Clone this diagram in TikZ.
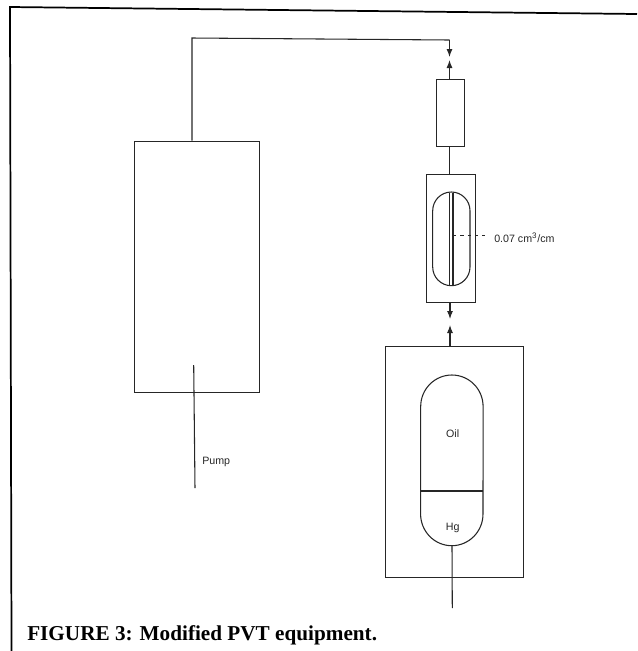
\documentclass[tikz,border=0pt]{standalone}
\usepackage{fontspec}
\setmainfont{Liberation Serif}
\setsansfont{Liberation Sans}
\usetikzlibrary{arrows.meta}
\tikzset{
  frameline/.style={line width=1.3pt,black},
  thinline/.style={line width=0.8pt,black!85},
  vessel/.style n args={2}{draw=black!85,line width=0.8pt,fill=none,inner sep=0pt,minimum width=#1*0.75pt,minimum height=#2*0.75pt,anchor=north west},
  lab/.style={font=\sffamily\fontsize{8}{9}\selectfont,inner sep=0pt,text=black!85},
  tipline/.style={thinline,-{Latex[length=6pt,width=4.5pt]}}
}
\begin{document}
\begin{tikzpicture}[x=0.75pt,y=-0.75pt]
\useasboundingbox (0,0) rectangle (637,651);
\draw[frameline] (11.5,651) -- (10,7) -- (637,14);
% vessels
\node[vessel={125}{251.5}] (pump) at (133.5,140.5) {};
\node[vessel={28.5}{67}] (rect) at (435.7,79) {};
\node[vessel={48.7}{128}] (sight) at (426,174) {};
\node[vessel={138}{231}] (oven) at (385,346) {};
% coordinates
\coordinate (pipeA) at (192,140.5);
\coordinate (pipeB) at (192,38);
\coordinate (pipeC) at (449.5,40);
\coordinate (pipeTip) at (449.5,57);
\coordinate (upTip) at (449.5,60);
\coordinate (rectT) at (449.5,79);
\coordinate (rectB) at (449.5,146);
\coordinate (sightT) at (449.5,174);
\coordinate (sightB) at (450,302);
\coordinate (downTip) at (450,319);
\coordinate (ovenT) at (450,346);
\coordinate (ovenTip) at (450,325);
\coordinate (capBot) at (452,545.7);
\coordinate (stemEnd) at (452.3,608);
\coordinate (pumpIn) at (193.7,365);
\coordinate (pumpOut) at (195,488);
\coordinate (leadA) at (453,235.7);
\coordinate (leadB) at (485,235.7);
% sight glass
\draw[thinline,rounded corners=14pt] (432.7,192) rectangle (470,285.7);
\draw[thinline] (449.3,193) -- (449.3,285) (453,193) -- (453,285);
% oil / Hg cell
\draw[thinline] (420.7,406.5) arc[start angle=180,end angle=360,x radius=31.2,y radius=31.5] -- (483,514) arc[start angle=0,end angle=180,x radius=31.2,y radius=31.7] -- cycle;
\draw[thinline] (420.7,491) -- (483,491);
% connectors
\draw[thinline] (capBot) -- (stemEnd);
\draw[thinline] (pumpIn) -- (pumpOut);
\draw[thinline] (pipeA) -- (pipeB) -- (pipeC);
\draw[tipline] (pipeC) -- (pipeTip);
\draw[tipline] (rectT) -- (upTip);
\draw[thinline] (rectB) -- (sightT);
\draw[tipline] (sightB) -- (downTip);
\draw[tipline] (ovenT) -- (ovenTip);
\draw[thinline,dash pattern=on 2.5pt off 3pt] (leadA) -- (leadB);
% labels
\node[lab,anchor=west] (flow) at (494,238) {0.07 cm\textsuperscript{3}/cm};
\node[lab,anchor=west] (pumplab) at (202,462) {Pump};
\node[lab] (oil) at (452.7,434) {Oil};
\node[lab] (hg) at (452.7,528) {Hg};
\node[anchor=west,inner sep=0pt,font=\bfseries\fontsize{15.9}{18}\selectfont] (cap) at (27,635) {FIGURE 3: Modified PVT equipment.};
\end{tikzpicture}
\end{document}
